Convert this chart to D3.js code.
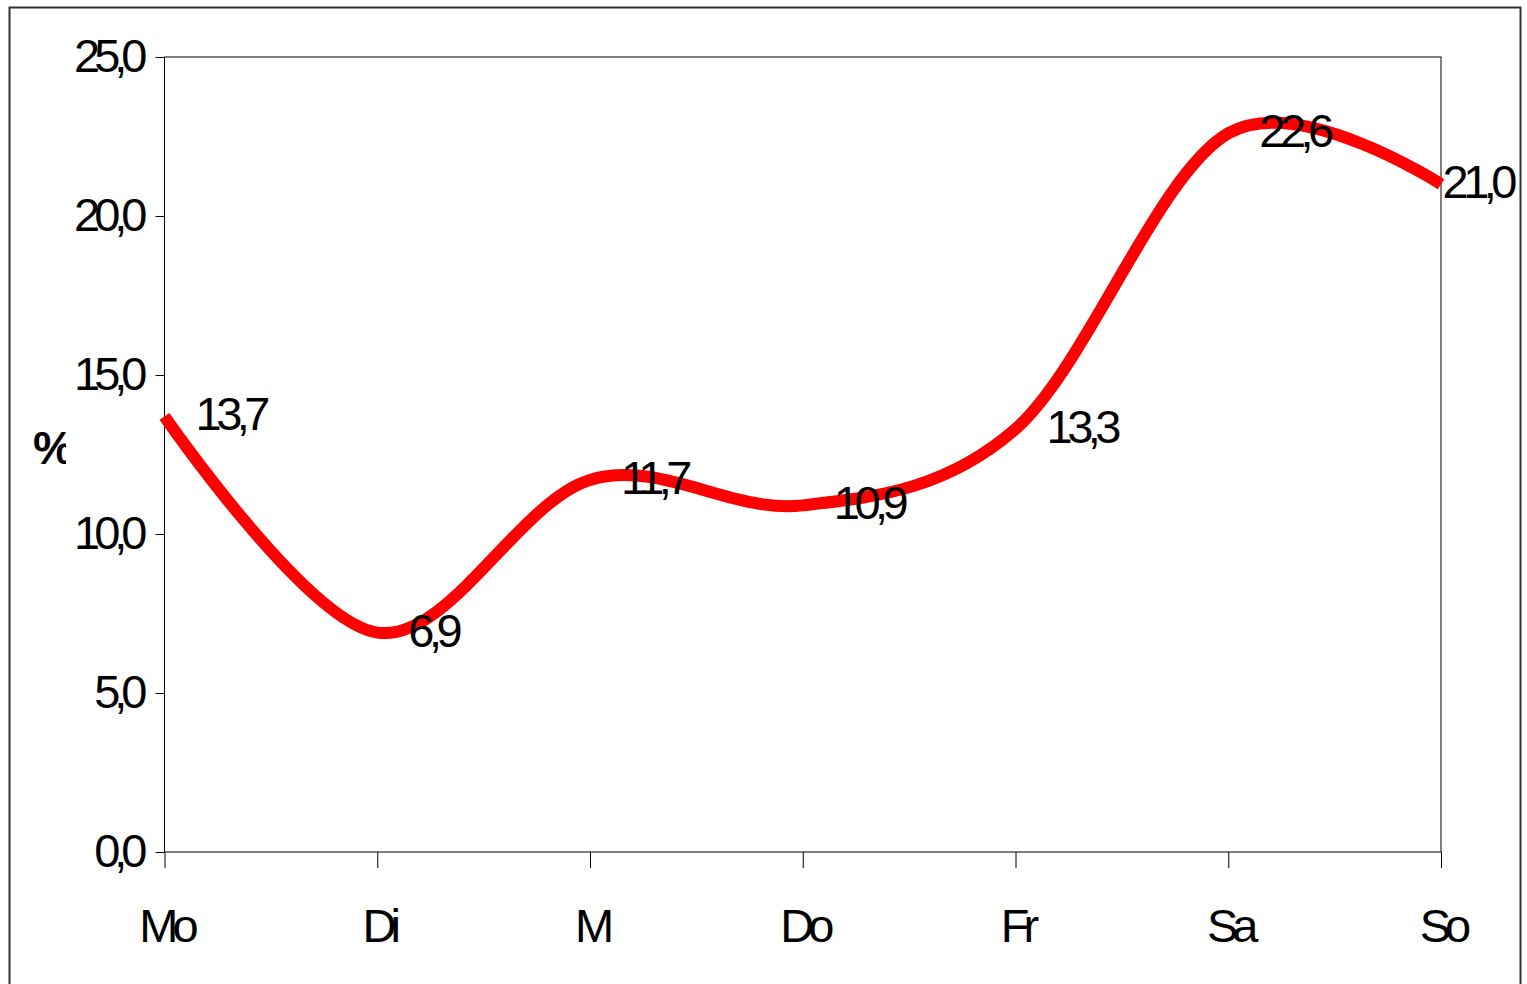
<!DOCTYPE html>
<meta charset="utf-8">
<style>
  body { margin: 0; background: white; }
  svg { font-family: "Liberation Sans", Arial, sans-serif; }
  .axis path { display: none; }
  .axis line { stroke: black; stroke-width: 1; }
  .axis text { font-size: 47px; letter-spacing: -6px; fill: black; }
  .lbl { font-size: 47px; letter-spacing: -5.5px; fill: black; }
</style>
<body>
</body>
<script src="https://cdn.jsdelivr.net/npm/d3@7"></script>
<script>
  const days = ['Mo', 'Di', 'M', 'Do', 'Fr', 'Sa', 'So'];
  const values = [13.7, 6.9, 11.7, 10.9, 13.3, 22.6, 21.0];
  const yTicks = [0, 5, 10, 15, 20, 25];

  const w = 1527, h = 984;
  const l = 164.5, r = 1441, t = 57, b = 852;
  const fmt = d => d.toFixed(1).replace('.', ',');

  const svg = d3.select('body').append('svg')
    .attr('width', w)
    .attr('height', h);

  // outer frame
  svg.append('rect')
    .attr('x', 9.5).attr('y', 7.5)
    .attr('width', 1511).attr('height', 1000)
    .attr('fill', 'white')
    .attr('stroke', '#333').attr('stroke-width', 2);

  const x = d3.scalePoint().domain(days).range([l, r]).padding(0);
  const y = d3.scaleLinear().domain([0, 25]).range([b, t]);

  // plot area
  svg.append('rect')
    .attr('x', l).attr('y', t)
    .attr('width', r - l).attr('height', b - t)
    .attr('fill', 'none').attr('stroke', 'black').attr('stroke-width', 1);

  // left axis
  svg.append('g')
    .attr('class', 'axis')
    .attr('transform', `translate(${l}, 0)`)
    .call(d3.axisLeft(y).tickValues(yTicks).tickFormat(fmt).tickSize(9).tickPadding(14))
    .selectAll('text').attr('dy', '0.3em');

  // bottom axis
  svg.append('g')
    .attr('class', 'axis')
    .attr('transform', `translate(0, ${b})`)
    .call(d3.axisBottom(x).tickSize(16).tickPadding(0))
    .selectAll('text').attr('dy', null).attr('y', 90).attr('dx', 1);

  // y title, clipped like the original
  svg.append('clipPath').attr('id', 'pc')
    .append('rect').attr('x', 20).attr('y', 400).attr('width', 46).attr('height', 100);
  svg.append('text')
    .attr('clip-path', 'url(#pc)')
    .attr('x', 33).attr('y', 464)
    .attr('font-size', 46).attr('font-weight', 'bold')
    .text('%');

  const pts = days.map((d, i) => ({day: d, v: values[i]}));

  svg.append('path')
    .datum(pts)
    .attr('fill', 'none')
    .attr('stroke', '#ff0000')
    .attr('stroke-width', 12)
    .attr('stroke-linejoin', 'round')
    .attr('d', d3.line().x(d => x(d.day)).y(d => y(d.v)).curve(d3.curveCardinal.tension(0)));

  svg.append('g').selectAll('text')
    .data(pts)
    .join('text')
    .attr('class', 'lbl')
    .attr('y', d => y(d.v) + 14)
    .text(d => fmt(d.v))
    .attr('x', function(d) {
      const len = this.getComputedTextLength();
      return Math.min(x(d.day) + 31, 1512 - len);
    });
</script>
